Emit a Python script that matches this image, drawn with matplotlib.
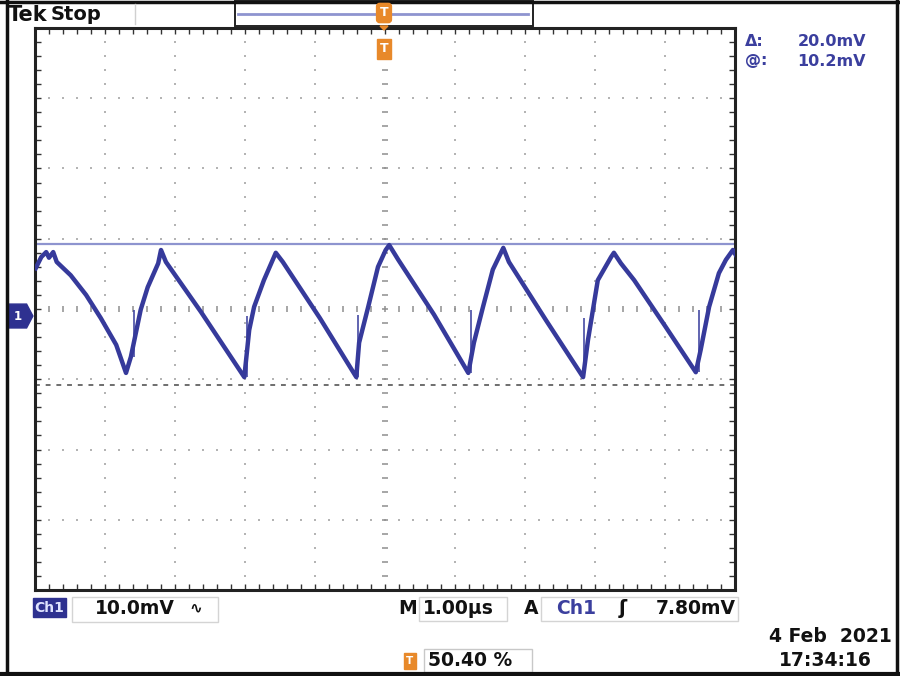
import numpy as np
import matplotlib.pyplot as plt
from matplotlib.patches import Rectangle, Polygon

W, H = 900, 676

# scope settings shown on screen
mv_per_div = 10.0      # mV/div
us_per_div = 1.00      # us/div
cursor_a = 10.2        # mV  (@ readout)
cursor_delta = 20.0    # mV  (delta readout)
trig_level = "7.80mV"
trig_pos = "50.40 %"
date_str = "4 Feb  2021"
time_str = "17:34:16"

# trace vertices (time in us, level in mV)
trace_t = [-4.99, -4.91, -4.84, -4.80, -4.74, -4.69, -4.49, -4.27, -4.06, -3.84, -3.70,
           -3.63, -3.49, -3.39, -3.24, -3.20, -3.13, -2.63, -2.01,
           -1.94, -1.87, -1.73, -1.56, -1.46, -0.93, -0.41,
           -0.37, -0.24, -0.10, 0.01, 0.06, 0.19, 0.70, 1.19,
           1.27, 1.40, 1.54, 1.69, 1.77, 2.30, 2.83,
           2.90, 3.04, 3.23, 3.27, 3.37, 3.56, 4.00, 4.44,
           4.51, 4.63, 4.77, 4.87, 4.97, 5.01]
trace_v = [6.8, 8.4, 9.1, 8.3, 9.1, 7.7, 5.8, 3.0, -0.3, -4.1, -8.1,
           -5.8, 0.9, 4.1, 7.5, 9.4, 7.7, 0.6, -8.7,
           -2.0, 1.3, 5.1, 9.0, 7.7, -0.3, -8.7,
           -3.8, 1.3, 7.0, 9.4, 10.1, 8.0, 0.2, -8.1,
           -3.8, 1.3, 6.6, 9.7, 7.7, -0.6, -8.7,
           -3.4, 5.1, 8.4, 9.0, 7.5, 5.1, -1.4, -8.0,
           -4.8, 1.3, 6.1, 8.0, 9.4, 8.7]

# thin glitches at the bottom of each ramp
spike_t = [-3.59, -1.97, -0.39, 1.23, 2.84, 4.49]
spike_lo = [-5.8, -8.7, -8.7, -8.1, -8.7, -8.0]
spike_hi = [0.9, 0.0, 0.1, 0.9, -0.3, 0.9]

trace_c = "#363a9b"
blue_txt = "#3b3f9e"
orange = "#e8892a"
fs = 13.5

fig = plt.figure(figsize=(W / 100, H / 100), dpi=100)
fig.patch.set_facecolor("white")

# graticule area
ax = fig.add_axes([35 / W, (H - 590) / H, 700 / W, 562 / H])
x0, x1 = -5 * us_per_div, 5 * us_per_div
yc = 1.0  # screen centre sits 0.1 div above ground
y0, y1 = yc - 4 * mv_per_div, yc + 4 * mv_per_div
ax.set_xlim(x0, x1)
ax.set_ylim(y0, y1)

# dotted grid
dot_x = np.arange(x0, x1 + 1e-6, 0.2 * us_per_div)
dot_y = np.arange(y0, y1 + 1e-6, 0.2 * mv_per_div)
for k in range(-4, 5):
    if k == 0:
        continue
    ax.plot(np.full_like(dot_y, k * us_per_div), dot_y, ls="none", marker="s",
            ms=1.8, color="#b4b4b4", mew=0)
for k in range(-3, 4):
    if k == 0:
        continue
    ax.plot(dot_x, np.full_like(dot_x, yc + k * mv_per_div), ls="none", marker="s",
            ms=1.8, color="#b4b4b4", mew=0)
# centre cross with minor ticks
ax.plot(dot_x, np.full_like(dot_x, yc), ls="none", marker="|", ms=4.5, color="#8e8e8e", mew=1.1)
ax.plot(np.full_like(dot_y, 0.0), dot_y, ls="none", marker="_", ms=4.5, color="#8e8e8e", mew=1.1)

# cursors
ax.axhline(cursor_a, color="#8e94cf", lw=1.6, zorder=2)
ax.axhline(cursor_a - cursor_delta, color="#6e6e6e", lw=1.4, ls=(0, (2.5, 3)), zorder=2)

# waveform
ax.plot(trace_t, trace_v, color=trace_c, lw=3.2, solid_joinstyle="round", zorder=4)
ax.vlines(spike_t, spike_lo, spike_hi, color=trace_c, lw=1.1, zorder=4)

ax.set_xticks(dot_x)
ax.set_yticks(dot_y)
ax.tick_params(which="both", direction="in", length=4, width=1, color="#333333",
               top=True, right=True, labelbottom=False, labelleft=False)
for s in ax.spines.values():
    s.set_linewidth(2.2)
    s.set_color("#222222")

# ground marker for Ch1
tr = ax.get_yaxis_transform()
ax.add_patch(Polygon([(-0.039, -1.7), (-0.012, -1.7), (-0.003, 0.0), (-0.012, 1.7), (-0.039, 1.7)],
                     closed=True, transform=tr, clip_on=False, facecolor="#2e3190",
                     edgecolor="#2e3190", zorder=6))
ax.text(-0.024, 0.0, "1", transform=tr, color="white", fontsize=8.5, fontweight="bold",
        ha="center", va="center", clip_on=False, zorder=7)

# overlay in pixel coordinates for the screen furniture
ov = fig.add_axes([0, 0, 1, 1], zorder=5)
ov.set_xlim(0, W)
ov.set_ylim(H, 0)
ov.axis("off")

# outer bezel lines
ov.plot([7, 7], [0, H], color="#111111", lw=2.5)
ov.plot([0, W], [1.5, 1.5], color="#111111", lw=2.5)
ov.plot([0, W], [673.5, 673.5], color="#111111", lw=3)
ov.plot([897, 897], [0, H], color="#111111", lw=2.5)
ov.plot([135, 135], [4, 24], color="#d0d0d0", lw=1)

ov.text(8, 15, "Tek", fontsize=15, fontweight="bold", color="#111111",
        ha="left", va="center")
ov.text(51, 15, "Stop", fontsize=14, fontweight="bold", color="#111111",
        ha="left", va="center")

# record view box with trigger marker
ov.add_patch(Rectangle((235, 1), 298, 25, facecolor="white", edgecolor="#222222", lw=1.4))
ov.plot([238, 528], [14, 14], color="#8e94cf", lw=2)
ov.text(384, 13, "T", fontsize=9, fontweight="bold", color="white", ha="center", va="center",
        bbox=dict(boxstyle="round,pad=0.25", fc=orange, ec=orange))
ov.add_patch(Polygon([(380, 26), (388, 26), (384, 30)], closed=True, fc=orange, ec=orange))
ov.text(384, 49, "T", fontsize=9, fontweight="bold", color="white", ha="center", va="center",
        bbox=dict(boxstyle="square,pad=0.25", fc=orange, ec=orange))

# cursor readouts
ov.text(745, 42, "\u0394:", fontsize=11.5, fontweight="bold", color=blue_txt, va="center")
ov.text(866, 42, f"{cursor_delta:.1f}mV", fontsize=11.5, fontweight="bold", color=blue_txt,
        va="center", ha="right")
ov.text(745, 61, "@:", fontsize=11.5, fontweight="bold", color=blue_txt, va="center")
ov.text(866, 61, f"{cursor_a:.1f}mV", fontsize=11.5, fontweight="bold", color=blue_txt,
        va="center", ha="right")

# bottom status line
ov.add_patch(Rectangle((33, 598), 33, 19, facecolor="#2e3190", edgecolor="#2e3190"))
ov.text(49.5, 607.5, "Ch1", fontsize=10, fontweight="bold", color="#dfe3ff",
        ha="center", va="center")
ov.add_patch(Rectangle((72, 597), 146, 25, fill=False, edgecolor="#d4d4d4", lw=1))
ov.text(95, 608, f"{mv_per_div:.1f}mV", fontsize=fs, fontweight="bold", color="#111111",
        va="center")
ov.text(189, 608, "\u223f", fontsize=11, fontweight="bold", color="#111111", va="center")

ov.text(398, 608, "M", fontsize=fs, fontweight="bold", color="#111111", va="center")
ov.add_patch(Rectangle((419, 597), 88, 24, fill=False, edgecolor="#d4d4d4", lw=1))
ov.text(423, 608, f"{us_per_div:.2f}\u00b5s", fontsize=fs, fontweight="bold",
        color="#111111", va="center")
ov.text(524, 608, "A", fontsize=fs, fontweight="bold", color="#111111", va="center")
ov.add_patch(Rectangle((541, 597), 197, 24, fill=False, edgecolor="#d4d4d4", lw=1))
ov.text(556, 608, "Ch1", fontsize=fs, fontweight="bold", color=blue_txt, va="center")
ov.text(619, 609, "\u0283", fontsize=14, fontweight="bold", color="#111111", va="center")
ov.text(736, 608, trig_level, fontsize=fs, fontweight="bold", color="#111111",
        va="center", ha="right")

ov.text(410, 661, "T", fontsize=7.5, fontweight="bold", color="white", ha="center", va="center",
        bbox=dict(boxstyle="square,pad=0.25", fc=orange, ec=orange))
ov.add_patch(Rectangle((424, 649), 108, 23, fill=False, edgecolor="#c8c8c8", lw=1))
ov.text(428, 661, trig_pos, fontsize=fs, fontweight="bold", color="#111111", va="center")

ov.text(892, 637, date_str, fontsize=fs, fontweight="bold", color="#111111",
        va="center", ha="right")
ov.text(872, 660, time_str, fontsize=fs, fontweight="bold", color="#111111",
        va="center", ha="right")

fig.savefig("out.png", dpi=100)
